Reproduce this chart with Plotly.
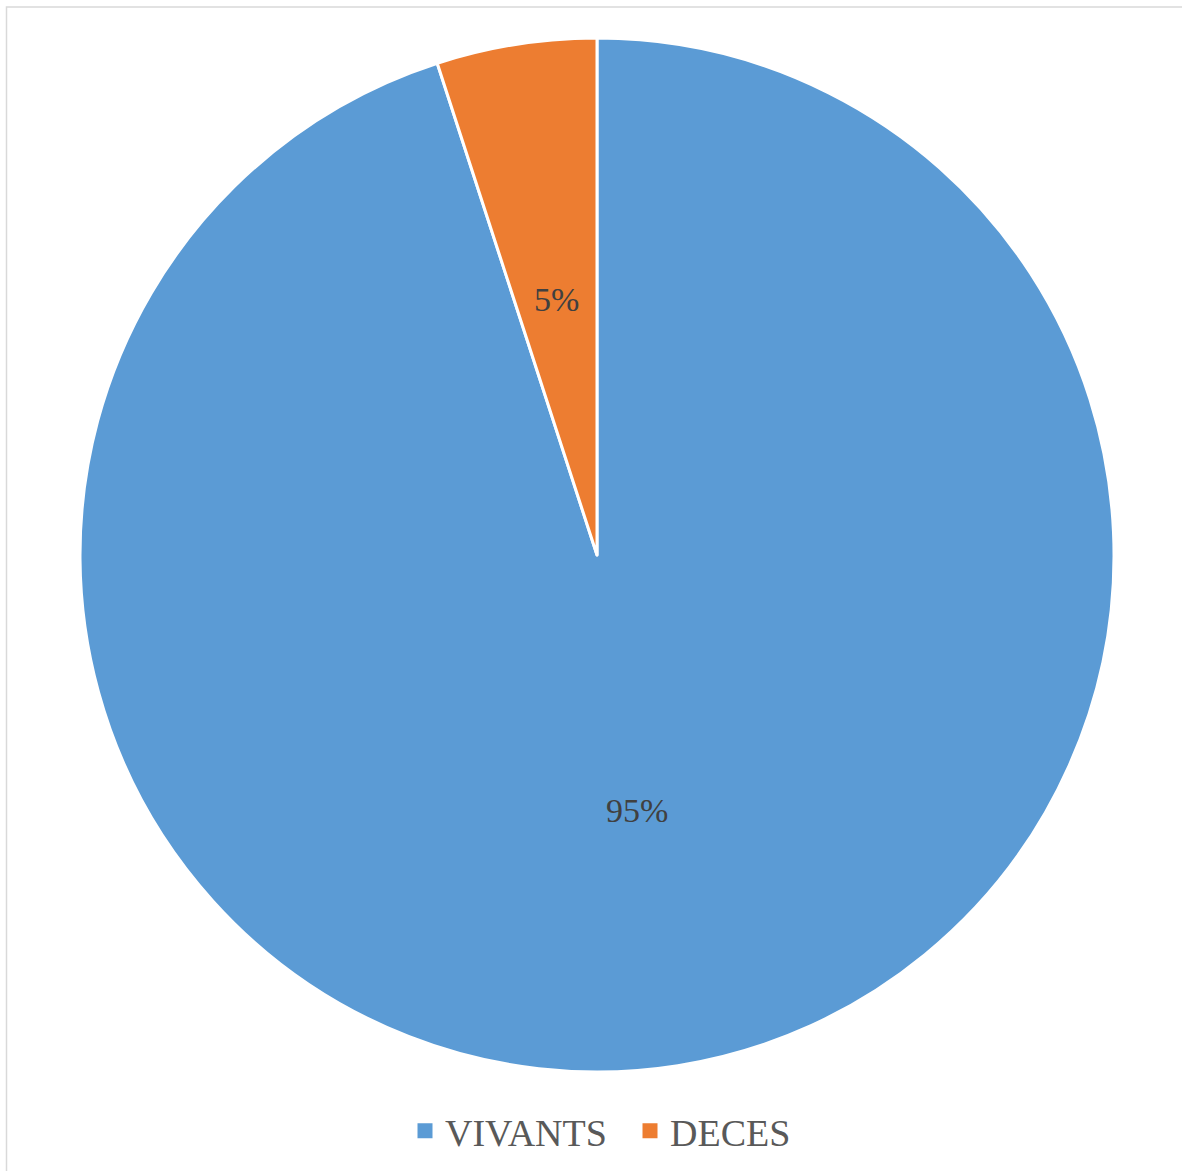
import math
import plotly.graph_objects as go

labels = ["VIVANTS", "DECES"]
values = [95, 5]
colors = ["#5B9BD5", "#ED7D31"]

W, H = 1182, 1171
cx, cy, R = 597, 555, 517

fig = go.Figure(go.Pie(
    labels=labels,
    values=values,
    sort=False,
    direction="clockwise",
    rotation=0,
    marker=dict(colors=colors, line=dict(color="white", width=3)),
    textinfo="none",
    showlegend=False,
    domain=dict(x=[(cx - R) / W, (cx + R) / W], y=[(H - cy - R) / H, (H - cy + R) / H]),
    hoverinfo="label+percent",
))

# legend entries (square swatches)
for lab, col in zip(labels, colors):
    fig.add_trace(go.Scatter(x=[None], y=[None], mode="markers", name=lab,
                             marker=dict(symbol="square", size=15, color=col),
                             showlegend=True, hoverinfo="skip"))

# percentage labels placed at half radius on each slice bisector
total = sum(values)
cum = 0
for v in values:
    mid = (cum + v / 2) / total
    cum += v
    th = 2 * math.pi * mid
    r = 0.5 * R
    px = cx + r * math.sin(th)
    py = cy - r * math.cos(th)
    fig.add_annotation(x=px / W, y=1 - py / H, xref="paper", yref="paper",
                       xanchor="center", yanchor="middle",
                       text=f"{round(100 * v / total)}%", showarrow=False,
                       font=dict(family="Liberation Serif", size=34, color="#404040"))

fig.add_shape(type="rect", xref="paper", yref="paper",
              x0=6.5 / W, x1=1.01, y0=-0.01, y1=(H - 7) / H,
              line=dict(color="#D9D9D9", width=1.5), layer="below")

fig.update_layout(
    width=W, height=H,
    margin=dict(l=0, r=0, t=0, b=0),
    paper_bgcolor="white",
    plot_bgcolor="white",
    showlegend=True,
    xaxis=dict(visible=False),
    yaxis=dict(visible=False),
    legend=dict(orientation="h", x=0.533, xanchor="center", y=(H - 1131) / H, yanchor="middle",
                font=dict(family="Liberation Serif", size=38, color="#595959"),
                itemsizing="trace", entrywidth=180, traceorder="normal"),
)

fig.write_html("out.html", config={"displayModeBar": False},
               post_script="document.body.style.margin='0';document.body.style.overflow='hidden';")
